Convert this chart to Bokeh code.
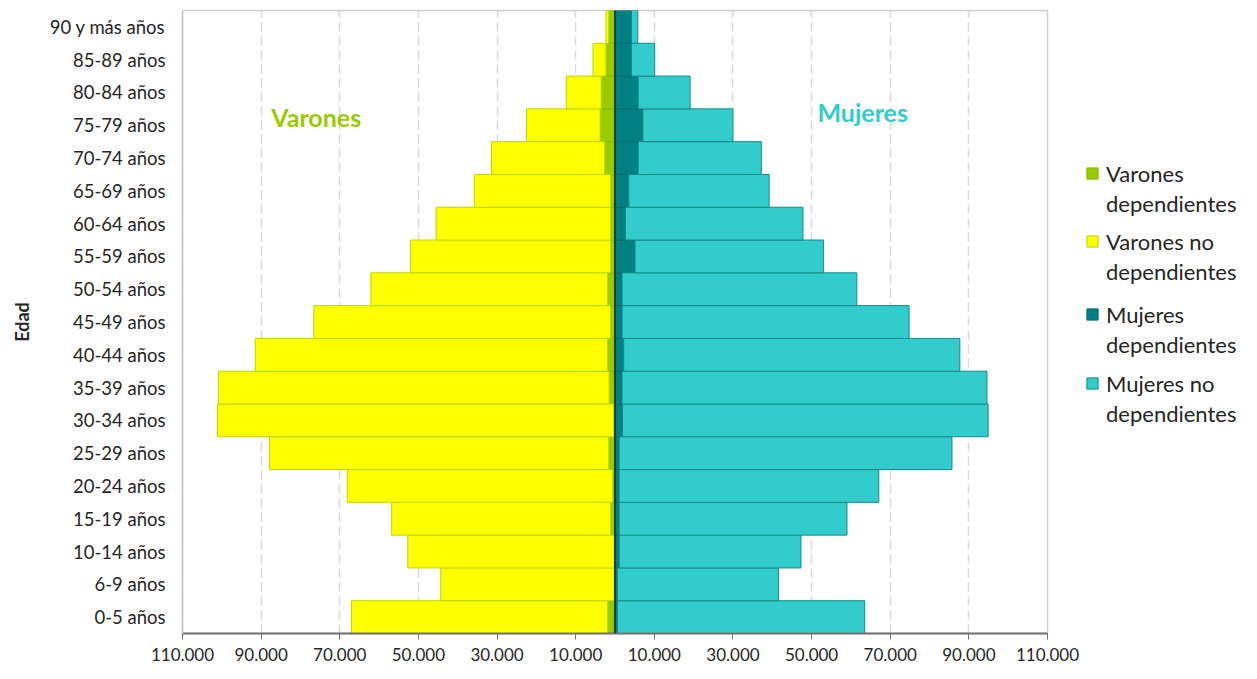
from bokeh.plotting import figure
from bokeh.layouts import row
from bokeh.models import (ColumnDataSource, Range1d, FixedTicker, Span, Label,
                          Legend, LegendItem)
from bokeh.embed import file_html
from bokeh.resources import INLINE

# ---- data (bottom to top) ----
edades = ["0-5 años", "6-9 años", "10-14 años", "15-19 años", "20-24 años",
          "25-29 años", "30-34 años", "35-39 años", "40-44 años", "45-49 años",
          "50-54 años", "55-59 años", "60-64 años", "65-69 años", "70-74 años",
          "75-79 años", "80-84 años", "85-89 años", "90 y más años"]
varones_dep = [1900, 200, 200, 1100, 600, 1600, 300, 1500, 1900, 1100,
               1900, 1100, 1100, 1100, 2650, 3800, 3500, 2300, 1600]
varones_nodep = [65100, 44100, 52500, 55700, 67500, 86300, 100800, 99300, 89600, 75500,
                 60200, 50900, 44400, 34700, 28750, 18700, 8900, 3300, 700]
mujeres_dep = [600, 600, 1050, 1050, 1050, 1050, 1900, 1800, 2200, 1800,
               1800, 5100, 2650, 3500, 5900, 7100, 5900, 4200, 4200]
mujeres_nodep = [62900, 41000, 46250, 57950, 66050, 84650, 93000, 92800, 85500, 73000,
                 59700, 47900, 45150, 35700, 31300, 22900, 13200, 5900, 1600]

series_line1 = ["Varones", "Varones no", "Mujeres", "Mujeres no"]
series_line2 = ["dependientes", "dependientes", "dependientes", "dependientes"]
series_fill = ["#99CC00", "#FFFF00", "#008080", "#33CCCC"]
series_line = ["#88B800", "#B8D800", "#006B6B", "#128A8A"]

x_ticks = [-110000, -90000, -70000, -50000, -30000, -10000,
           10000, 30000, 50000, 70000, 90000, 110000]
x_tick_labels = ["110.000", "90.000", "70.000", "50.000", "30.000", "10.000",
                 "10.000", "30.000", "50.000", "70.000", "90.000", "110.000"]

FONT = "Lato"
TXT = "#262626"
H = 663
W_MAIN = 1083
FRAME_BOTTOM = 633  # screen y of the (aligned) frame bottom

src = ColumnDataSource(dict(
    y=list(range(len(edades))),
    vd=[-v for v in varones_dep],
    vn=[-v for v in varones_nodep],
    md=mujeres_dep,
    mn=mujeres_nodep,
))

p = figure(width=W_MAIN, height=H, output_backend="svg", toolbar_location=None,
           x_range=Range1d(-110000, 110000), y_range=Range1d(-0.5, len(edades) - 0.5),
           min_border_top=10, min_border_right=36, min_border_bottom=0, min_border_left=182)

p.outline_line_color = "#D0D0D0"
p.outline_line_width = 1.5
p.background_fill_color = "white"
p.border_fill_color = "white"

rv = p.hbar_stack(["vd", "vn"], y="y", height=1.0, source=src,
                  fill_color=series_fill[0:2], line_color=series_line[0:2], line_width=1)
rm = p.hbar_stack(["md", "mn"], y="y", height=1.0, source=src,
                  fill_color=series_fill[2:4], line_color=series_line[2:4], line_width=1)

p.add_layout(Span(location=0, dimension="height", line_color="#1F3F3F", line_width=2))

# grid
p.ygrid.visible = False
p.xgrid.ticker = FixedTicker(ticks=[t for t in x_ticks if abs(t) < 110000])
p.xgrid.grid_line_color = "#D9D9D9"
p.xgrid.grid_line_dash = "9 5"
p.xgrid.grid_line_width = 1.5
p.xgrid.level = "underlay"

# x axis
p.xaxis.ticker = FixedTicker(ticks=x_ticks)
p.xaxis.major_label_overrides = {t: l for t, l in zip(x_ticks, x_tick_labels)}
p.xaxis.minor_tick_line_color = None
p.xaxis.major_tick_out = 6
p.xaxis.major_tick_in = 0
p.xaxis.major_tick_line_color = "#707070"
p.xaxis.axis_line_color = "#707070"
p.xaxis.axis_line_width = 2
p.xaxis.major_label_standoff = 8
p.xaxis.major_label_text_font = FONT
p.xaxis.major_label_text_font_size = "17px"
p.xaxis.major_label_text_color = TXT

# y axis
p.yaxis.ticker = FixedTicker(ticks=list(range(len(edades))))
p.yaxis.major_label_overrides = {i: e for i, e in enumerate(edades)}
p.yaxis.minor_tick_line_color = None
p.yaxis.major_tick_line_color = None
p.yaxis.axis_line_color = "#C8C8C8"
p.yaxis.axis_line_width = 1.5
p.yaxis.major_label_standoff = 11
p.yaxis.major_label_text_font = FONT
p.yaxis.major_label_text_font_size = "18.5px"
p.yaxis.major_label_text_color = TXT
p.yaxis.axis_label = "Edad"
p.yaxis.axis_label_text_font = FONT
p.yaxis.axis_label_text_font_style = "bold"
p.yaxis.axis_label_text_font_size = "18px"
p.yaxis.axis_label_text_color = TXT
p.yaxis.axis_label_standoff = 14

# side labels
p.add_layout(Label(x=-76000, y=15.26, text="Varones", text_align="center",
                   text_baseline="middle", text_font=FONT, text_font_style="bold",
                   text_font_size="25px", text_color="#99CC00"))
p.add_layout(Label(x=63000, y=15.4, text="Mujeres", text_align="center",
                   text_baseline="middle", text_font=FONT, text_font_style="bold",
                   text_font_size="25px", text_color="#33CCCC"))

# legend panel (separate figure to the right)
pl = figure(width=1241 - W_MAIN, height=H, output_backend="svg", toolbar_location=None,
            x_range=Range1d(0, 1), y_range=Range1d(0, 1),
            x_axis_type=None, y_axis_type=None,
            min_border=0, min_border_top=0, min_border_bottom=0,
            min_border_left=0, min_border_right=0)
pl.outline_line_color = None
pl.xgrid.visible = False
pl.ygrid.visible = False

nan = float("nan")
blank = pl.hbar(y=[nan], right=[nan], height=0.1, fill_alpha=0, line_alpha=0)
legend_tops = [158, 226, 299, 368]  # screen px from top of each legend block
for l1, l2, fc, lc, top in zip(series_line1, series_line2, series_fill, series_line, legend_tops):
    r = pl.hbar(y=[nan], right=[nan], height=0.1, fill_color=fc, line_color=lc, line_width=1)
    lg = Legend(items=[LegendItem(label=l1, renderers=[r]),
                       LegendItem(label=l2, renderers=[blank])],
                location=(2, FRAME_BOTTOM - (top + 60)))
    lg.border_line_color = None
    lg.background_fill_alpha = 0
    lg.padding = 0
    lg.margin = 0
    lg.spacing = 0
    lg.glyph_width = 14
    lg.glyph_height = 14
    lg.label_height = 30
    lg.label_text_font = FONT
    lg.label_text_font_size = "22px"
    lg.label_text_color = TXT
    lg.label_standoff = 7
    lg.label_text_baseline = "middle"
    pl.add_layout(lg, "center")

layout = row(p, pl)
open("out.html", "w").write(file_html(layout, INLINE))
